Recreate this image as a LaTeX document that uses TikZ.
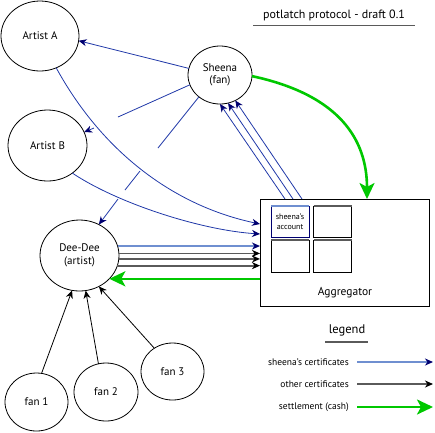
\documentclass[tikz,border=0pt]{standalone}
\usepackage{fontspec}
\setmainfont{PT Sans}
\usetikzlibrary{arrows.meta,shapes.geometric}
\definecolor{cblue}{HTML}{2038A8}
\definecolor{cnavy}{HTML}{000070}
\definecolor{clight}{HTML}{6F8FD0}
\definecolor{cgray}{HTML}{5A5A5A}
\definecolor{cgreen}{HTML}{00C800}
\begin{document}
\begin{tikzpicture}[x=1pt,y=-1pt,
  ent/.style={ellipse, draw, line width=0.8pt, outer sep=0pt, inner sep=0pt, align=center, font=\fontsize{11}{12.5}\selectfont},
  bl/.style={draw=cblue, line width=0.8pt},
  navyhead/.style={-{Stealth[length=8pt,width=7pt,inset=2.5pt,color=cnavy]}},
  blkhead/.style={-{Stealth[length=8pt,width=7pt,inset=2.5pt,color=black]}},
  greenhead/.style={-{Stealth[length=16pt,width=15pt,inset=4pt,color=cgreen]}},
  certblue/.style={draw=clight, line width=1.8pt, navyhead},
  certgray/.style={draw=cgray, line width=1.8pt, blkhead},
  cash/.style={draw=cgreen, line width=2.6pt, greenhead},
  fanline/.style={draw=black, line width=0.8pt, blkhead},
  subbox/.style={rectangle, draw, line width=0.8pt, minimum width=38pt, minimum height=31pt, inner sep=0pt, outer sep=0pt},
  lbl/.style={font=\fontsize{9.5}{11}\selectfont, anchor=east, inner sep=0pt}
]
\useasboundingbox (0,0) rectangle (435,432);

% title
\node[font=\fontsize{12}{14}\selectfont, inner sep=0pt] (title) at (334,15) {potlatch protocol - draft 0.1};
\draw[cgray, line width=1.5pt] (253,25.5) -- (415,25.5);

% entities
\node[ent, minimum width=78pt, minimum height=70pt] (artA) at (40,36) {Artist A};
\node[ent, minimum width=79pt, minimum height=71pt] (artB) at (47.5,145.5) {Artist B};
\node[ent, minimum width=64pt, minimum height=58pt] (sheena) at (220,75) {Sheena\\(fan)};
\node[ent, minimum width=79pt, minimum height=71pt] (deedee) at (79.5,255.5) {Dee-Dee\\(artist)};
\node[ent, minimum width=63pt, minimum height=58pt] (fan1) at (36.5,402) {fan 1};
\node[ent, minimum width=64pt, minimum height=58pt] (fan2) at (106,392) {fan 2};
\node[ent, minimum width=63pt, minimum height=57pt] (fan3) at (172.5,371.5) {fan 3};

% aggregator
\node[rectangle, draw, line width=0.9pt, minimum width=169pt, minimum height=107pt, inner sep=0pt, outer sep=0pt] (agg) at (344.5,252.5) {};
\node[font=\fontsize{11.5}{13}\selectfont] (agglabel) at (345,293) {Aggregator};
\node[subbox, draw=cnavy, align=center, font=\fontsize{8}{10}\selectfont] (acct) at (290,221.5) {sheena's\\account};
\draw[clight, line width=1.8pt] (acct.north west) -- (acct.north east);
\node[subbox] (b2) at (332.5,221.5) {};
\draw[cgray, line width=1.8pt] (b2.north west) -- (b2.north east);
\node[subbox, minimum height=32pt] (b3) at (290,256) {};
\draw[cgray, line width=1.8pt] (b3.north west) -- (b3.north east);
\node[subbox, minimum height=32pt] (b4) at (332.5,256) {};
\draw[cgray, line width=1.8pt] (b4.north west) -- (b4.north east);

% coordinates
\coordinate (aggA) at (260,224);
\coordinate (aggB) at (260,234);
\coordinate (gtop) at (367,199);
\coordinate (c1) at (285,199);
\coordinate (c2) at (293,199);
\coordinate (c3) at (302,199);
\coordinate (sb1) at (118,117);
\coordinate (sb2) at (94,128);
\coordinate (sd1) at (158,148);
\coordinate (sd2) at (140,171);
\coordinate (sd3) at (125,190);
\coordinate (sd4) at (118,199);

% Sheena -> artists
\draw[bl, navyhead] (sheena.168) -- (artA.-7);
\draw[bl] (sheena.198) -- (sb1);
\draw[bl, navyhead] (sb2) -- (artB.20);
\draw[bl] (sheena.226) -- (sd1);
\draw[bl] (sd2) -- (sd3);
\draw[bl, navyhead] (sd4) -- (deedee.58);

% artists -> aggregator
\draw[bl, navyhead] (artA.-63) .. controls (100,148) and (170,205) .. (aggA);
\draw[bl, navyhead] (artB.-48) .. controls (117,203) and (200,230) .. (aggB);

% aggregator -> Sheena
\draw[bl, navyhead] (c1) -- (sheena.-90);
\draw[bl, navyhead] (c2) -- (sheena.-74);
\draw[bl, navyhead] (c3) -- (sheena.-59);

% settlement Sheena -> aggregator
\draw[cash] (sheena.-2) .. controls (340,95) and (367,140) .. (gtop);

% Dee-Dee -> aggregator
\draw[certblue] (deedee.14) -- (deedee.14 -| agg.west);
\draw[certgray] (deedee.3.6) -- (deedee.3.6 -| agg.west);
\draw[certgray] (deedee.-5.1) -- (deedee.-5.1 -| agg.west);
\draw[certgray] (deedee.-15.6) -- (deedee.-15.6 -| agg.west);
\draw[cash] (deedee.-38.4 -| agg.west) -- (deedee.-38.4);

% fans -> Dee-Dee
\draw[fanline] (fan1.80) -- (deedee.-102.6);
\draw[fanline] (fan2.105) -- (deedee.-80.7);
\draw[fanline] (fan3.128) -- (deedee.-58.8);

% legend
\node[font=\fontsize{12.5}{14}\selectfont, inner sep=0pt] (legend) at (347,330) {legend};
\draw[cgray, line width=1.5pt] (325,342) -- (368,342);
\node[lbl] (l1) at (349,362) {sheena's certificates};
\node[lbl] (l2) at (349,384) {other certificates};
\node[lbl] (l3) at (349,407) {settlement (cash)};
\coordinate (l1s) at (357,362); \coordinate (l1e) at (433,362);
\coordinate (l2s) at (357,384); \coordinate (l2e) at (433,384);
\coordinate (l3s) at (357,407); \coordinate (l3e) at (433,407);
\draw[certblue] (l1s) -- (l1e);
\draw[certgray] (l2s) -- (l2e);
\draw[cash] (l3s) -- (l3e);
\end{tikzpicture}
\end{document}
